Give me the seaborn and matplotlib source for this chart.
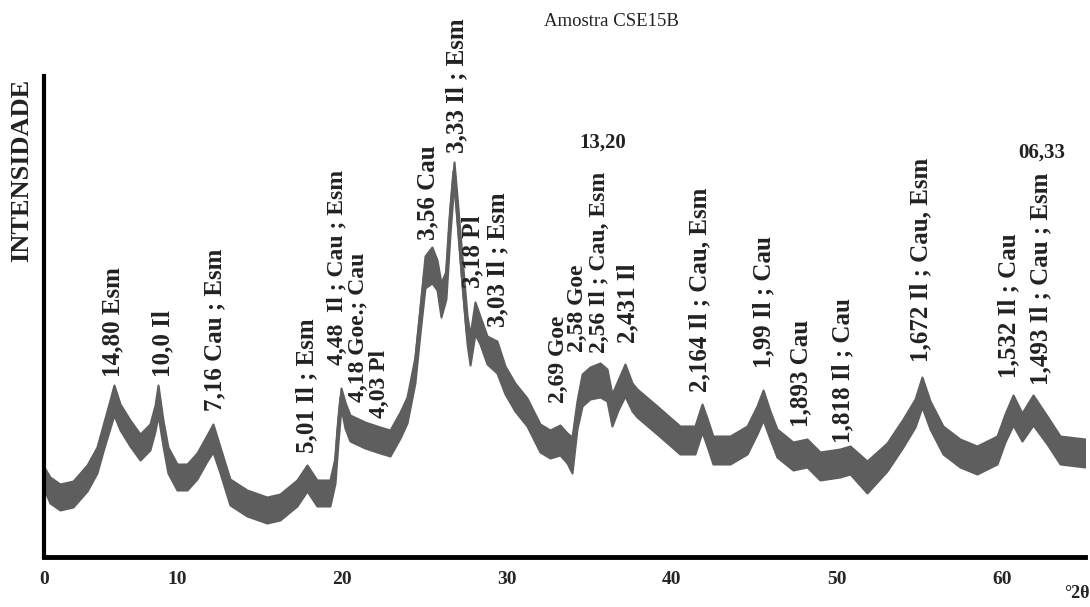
import numpy as np
import pandas as pd
import matplotlib
matplotlib.use("Agg")
import matplotlib.pyplot as plt
from matplotlib.ticker import MultipleLocator
import seaborn as sns

# Difractograma (leitura da figura): 2theta, intensidade media do traco, meia-largura do ruido
two_theta = [1.94, 2.30, 2.91, 3.70, 4.55, 5.15, 5.52, 5.94, 6.18, 6.55, 7.15, 7.76, 8.36, 8.67,
             8.85, 9.15, 9.45, 10.00, 10.61, 11.21, 11.82, 12.18, 12.61, 13.21, 14.24, 15.45,
             16.24, 17.27, 17.88, 18.48, 19.27, 19.58, 19.76, 19.94, 20.18, 20.48, 21.39, 22.30,
             22.91, 23.52, 23.94, 24.42, 24.73, 25.03, 25.45, 25.76, 26.00, 26.30, 26.55, 26.79,
             27.03, 27.27, 27.58, 27.76, 28.06, 28.36, 28.79, 29.39, 29.88, 30.48, 31.21, 32.00,
             32.61, 33.21, 33.64, 33.94, 34.24, 34.55, 35.03, 35.64, 36.06, 36.36, 36.73, 37.15,
             37.58, 37.88, 39.09, 40.48, 41.39, 41.82, 42.12, 42.48, 43.52, 44.55, 45.15, 45.52,
             45.94, 46.36, 47.33, 48.18, 48.97, 50.18, 50.79, 51.82, 53.03, 54.00, 54.73, 55.15,
             55.64, 56.42, 57.45, 58.48, 59.70, 60.18, 60.67, 61.21, 61.88, 62.73, 63.52, 65.03]
intensity = [79, 67, 60, 63, 79, 97, 119, 143, 157, 140, 124, 110, 120, 139,
             157, 124, 97, 80, 80, 91, 109, 119, 97, 65, 54, 47,
             50, 64, 79, 64, 64, 87, 127, 159, 142, 129, 122, 117,
             114, 132, 147, 187, 237, 285, 292, 282, 257, 272, 337, 385,
             337, 287, 227, 207, 239, 227, 207, 200, 177, 160, 145, 119,
             113, 117, 109, 102, 142, 167, 174, 177, 172, 147, 162, 177,
             160, 154, 137, 117, 117, 139, 125, 107, 107, 117, 137, 152,
             132, 114, 101, 104, 91, 94, 97, 80, 100, 124, 144, 165,
             142, 117, 104, 97, 107, 129, 147, 130, 147, 127, 107, 104]
noise = [11, 13, 13, 13, 13, 13, 13, 14, 15, 13, 13, 13, 13, 13,
         15, 13, 13, 13, 13, 13, 13, 14, 13, 13, 13, 13,
         13, 13, 13, 13, 13, 13, 12, 10, 13, 13, 13, 13,
         13, 13, 13, 13, 13, 16, 18, 15, 17, 14, 13, 10,
         12, 14, 14, 15, 16, 14, 14, 16, 14, 14, 14, 14,
         14, 15, 15, 18, 14, 16, 16, 17, 16, 16, 15, 16,
         14, 14, 14, 14, 14, 14, 14, 14, 14, 14, 14, 15,
         14, 14, 14, 14, 14, 14, 14, 16, 14, 14, 14, 15,
         14, 14, 14, 14, 14, 14, 15, 14, 15, 14, 14, 14]

peak_labels = ["14,80 Esm", "10,0 Il", "7,16 Cau ; Esm", "5,01 Il ; Esm",
               "4,48  Il ; Cau ; Esm", "4,18 Goe.; Cau", "4,03 Pl", "3,56 Cau",
               "3,33 Il ; Esm", "3,18 Pl", "3,03 Il ; Esm", "2,69 Goe", "2,58 Goe",
               "2,56 Il ; Cau, Esm", "2,431 Il", "2,164 Il ; Cau, Esm", "1,99 Il ; Cau",
               "1,893 Cau", "1,818 Il ; Cau", "1,672 Il ; Cau, Esm", "1,532 Il ; Cau",
               "1,493 Il ; Cau ; Esm"]
hkl_labels = ["13,20", "06,33"]
xtick_labels = ["0", "10", "20", "30", "40", "50", "60"]

# posicoes das anotacoes (2theta, base do texto, tamanho)
peak_label_pos = [(6.12, 180, 18), (9.15, 180, 18), (12.30, 146, 18), (17.88, 104, 18),
                  (19.70, 192, 17), (20.97, 155, 17), (22.24, 139, 17), (25.21, 317, 18),
                  (26.97, 404, 18), (27.94, 269, 18), (29.45, 230, 18), (33.10, 154, 17),
                  (34.30, 205, 17), (35.62, 204, 17), (37.30, 214, 18), (41.70, 165, 18),
                  (45.58, 189, 18), (47.82, 130, 18), (50.36, 114, 18), (55.09, 195, 18),
                  (60.42, 179, 18), (62.36, 172, 18)]
hkl_pos = [(35.82, 414), (62.42, 404)]
xtick_pos = [1.94, 10, 20, 30, 40, 50, 60]

df = pd.DataFrame({"2theta": two_theta, "I": intensity, "noise": noise})
df["lo"] = df["I"] - df["noise"]
df["hi"] = df["I"] + df["noise"]

sns.set_style("white")
plt.rcParams["font.family"] = ["Liberation Serif", "DejaVu Serif"]

fig = plt.figure(figsize=(10.9, 6.07), dpi=100)
ax = fig.add_axes([44 / 1090, 50 / 607, 1041 / 1090, 481 / 607])

trace = "#5e5e5e"
ax.fill_between(df["2theta"], df["lo"], df["hi"], color=trace, linewidth=1.5, edgecolor=trace)
sns.lineplot(data=df, x="2theta", y="I", color=trace, linewidth=2.5, ax=ax)

for txt, (x, y, fs) in zip(peak_labels, peak_label_pos):
    ax.text(x, y, txt, rotation=90, ha="center", va="bottom", fontsize=fs,
            fontweight="bold", color="#222222")
for txt, (x, y) in zip(hkl_labels, hkl_pos):
    ax.text(x, y, txt, ha="center", va="center", fontsize=15,
            fontweight="bold", color="#222222")

ax.set_xlim(1.94, 65.03)
ax.set_ylim(0, 481)
ax.set_xticks(xtick_pos)
ax.set_xticklabels(xtick_labels, fontsize=14, fontweight="bold")
ax.xaxis.set_minor_locator(MultipleLocator(1))
ax.tick_params(axis="x", which="major", direction="out", length=6, width=1.2,
               color="#666666", pad=4)
ax.tick_params(axis="x", which="minor", direction="out", length=3, width=0.8,
               color="#999999")
ax.set_yticks([])
ax.set_xlabel("")
ax.set_ylabel("")
for side in ["top", "right"]:
    ax.spines[side].set_visible(False)
ax.spines["left"].set_linewidth(3)
ax.spines["bottom"].set_linewidth(3.5)
ax.spines["left"].set_color("black")
ax.spines["bottom"].set_color("black")

fig.text(611 / 1090, 1 - 22 / 607, "Amostra CSE15B", ha="center", va="center",
         fontsize=13.5, color="#222222")
fig.text(22 / 1090, 1 - 170 / 607, "INTENSIDADE", rotation=90, ha="center",
         va="center", fontsize=19, fontweight="bold", color="#222222")
fig.text(1077 / 1090, 1 - 594 / 607, "°2θ", ha="center", va="center",
         fontsize=13, fontweight="bold", color="#222222")

fig.savefig("out.png", dpi=100)
